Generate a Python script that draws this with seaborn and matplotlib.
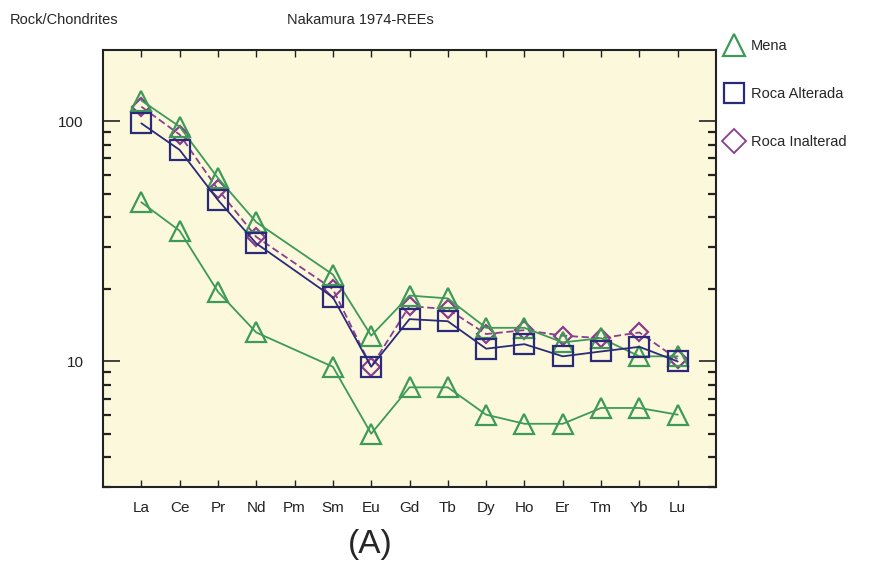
import numpy as np
import pandas as pd
import matplotlib
matplotlib.use("Agg")
import matplotlib.pyplot as plt
from matplotlib.lines import Line2D
from matplotlib.ticker import NullFormatter, FixedLocator
import seaborn as sns

elements = ["La", "Ce", "Pr", "Nd", "Pm", "Sm", "Eu", "Gd", "Tb", "Dy", "Ho", "Er", "Tm", "Yb", "Lu"]
nan = np.nan
mena_1 = [122, 95, 58, 38, nan, 23, 12.8, 18.8, 18.3, 13.8, 13.8, 12.0, 12.5, 10.5, 10.5]
mena_2 = [46, 35, 19.5, 13.2, nan, 9.5, 5.0, 7.8, 7.8, 6.0, 5.5, 5.5, 6.4, 6.4, 6.0]
roca_alterada = [98, 76, 47, 31, nan, 18.5, 9.5, 15.0, 14.7, 11.3, 11.8, 10.5, 11.0, 11.5, 10.0]
roca_inalterada = [115, 88, 52, 33, nan, 20, 9.5, 17.0, 16.5, 13.0, 13.5, 12.8, 12.5, 13.2, 10.2]

labels = ["Mena", "Roca Alterada", "Roca Inalterad"]

green = "#3d9a58"
blue = "#2b2a78"
purple = "#8a3d8f"

sns.set_theme(style="white")
plt.rcParams['font.family'] = ['Liberation Sans', 'DejaVu Sans']

fig = plt.figure(figsize=(8.9, 5.69), dpi=100)
ax = fig.add_axes([103/890, 1-487/569, (716-103)/890, (487-50)/569])
ax.set_facecolor("#fcf8dc")

x = np.arange(len(elements))

def draw(vals, color, marker, ms, ls, z):
    df = pd.DataFrame({"x": x, "y": vals}).dropna()
    sns.lineplot(data=df, x="x", y="y", ax=ax, color=color, linestyle=ls, linewidth=1.3,
                 marker=marker, markersize=ms, markerfacecolor="none",
                 markeredgecolor=color, markeredgewidth=1.6, zorder=z)

draw(roca_inalterada, purple, "D", 9, (0, (4, 2)), 3)
draw(mena_1, green, "^", 15, "-", 4)
draw(roca_alterada, blue, "s", 14, "-", 5)
draw(mena_2, green, "^", 15, "-", 4)

ax.set_yscale("log")
ax.set_ylim(3.0, 198)
ax.set_xlim(-1, 15)
ax.set_xticks(x)
ax.set_xticklabels(elements, fontsize=11)
ax.set_yticks([10, 100])
ax.set_yticklabels(["10", "100"], fontsize=11)
ax.yaxis.set_minor_locator(FixedLocator([3, 4, 5, 6, 7, 8, 9, 20, 30, 40, 50, 60, 70, 80, 90]))
ax.yaxis.set_minor_formatter(NullFormatter())
ax.set_xlabel("")
ax.set_ylabel("")
ax.tick_params(axis="both", which="both", direction="in", colors="#222222")
ax.tick_params(axis="y", which="major", length=12, width=1.2, left=True, right=True, pad=14)
ax.tick_params(axis="y", which="minor", length=6, width=1.6, left=True, right=True)
ax.tick_params(axis="x", which="major", length=5, width=1.0, top=True, bottom=True, pad=10)
for s in ax.spines.values():
    s.set_color("#222222")
    s.set_linewidth(1.5)

fig.text(10/890, 1-20/569, "Rock/Chondrites", fontsize=10.5, va="center", ha="left")
fig.text(287/890, 1-20/569, "Nakamura 1974-REEs", fontsize=10.5, va="center", ha="left")
fig.text(370/890, 1-545/569, "(A)", fontsize=24, va="center", ha="center")

handles = [
    Line2D([], [], linestyle="none", marker="^", markersize=16, markerfacecolor="none", markeredgecolor=green, markeredgewidth=1.6),
    Line2D([], [], linestyle="none", marker="s", markersize=15, markerfacecolor="none", markeredgecolor=blue, markeredgewidth=1.6),
    Line2D([], [], linestyle="none", marker="D", markersize=12, markerfacecolor="none", markeredgecolor=purple, markeredgewidth=1.3),
]
fig.legend(handles, labels, loc="upper left", bbox_to_anchor=(716/890, 1-33/569), frameon=False,
           fontsize=10.5, labelspacing=2.35, handletextpad=0.4, handlelength=1.6, borderaxespad=0)

fig.savefig("out.png", dpi=100, facecolor="white")
